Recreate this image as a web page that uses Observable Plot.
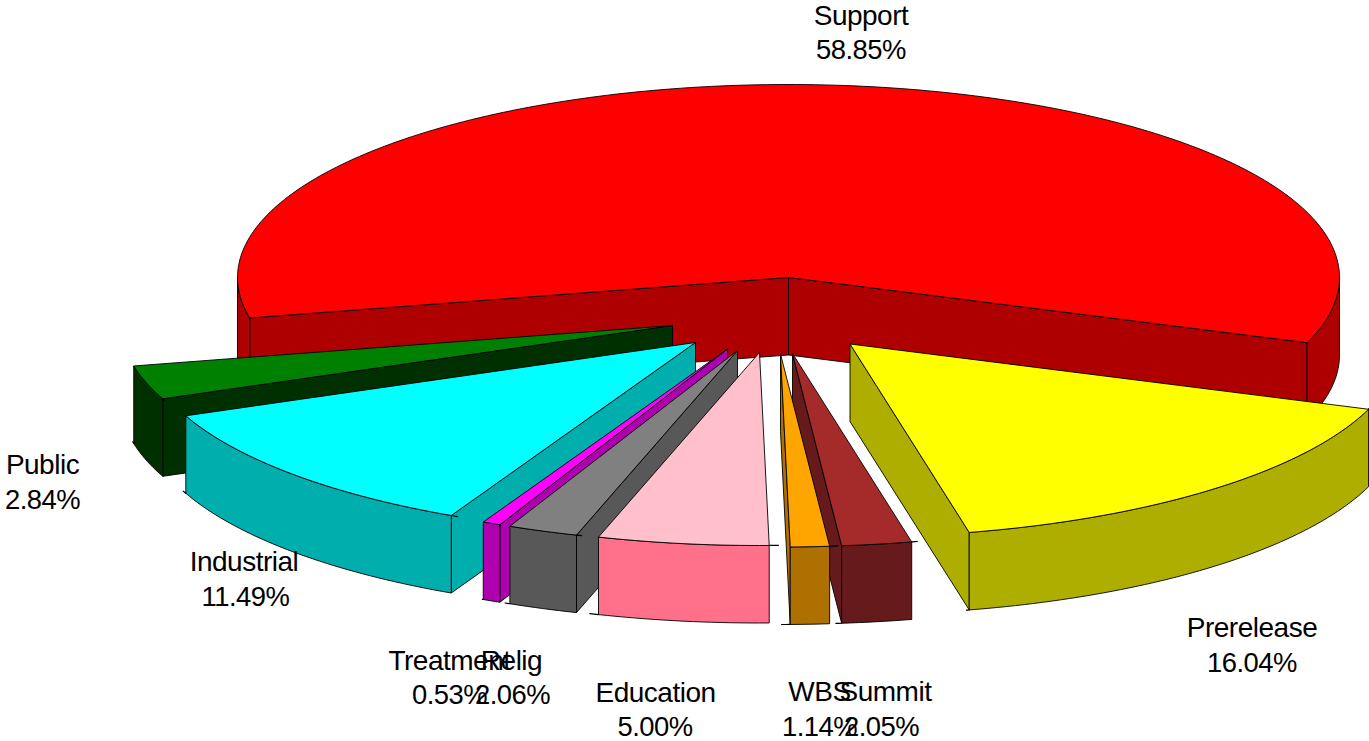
<!DOCTYPE html>
<html>
<head>
<meta charset="utf-8">
<style>html,body{margin:0;padding:0;background:#fff;overflow:hidden}svg{display:block}</style>
<script src="https://cdn.jsdelivr.net/npm/d3@7"></script>
<script src="https://cdn.jsdelivr.net/npm/@observablehq/plot@0.6"></script>
</head>
<body>
<script>
// Data, in circular order (clockwise from the Support slice)
const categories = ["Support","Prerelease","Summit","WBS","Education","Relig","Treatment","Industrial","Public"];
const shares = [58.85,16.04,2.05,1.14,5.00,2.06,0.53,11.49,2.84];

// Styles
const topColors  = ["#ff0000","#ffff00","#a52a2a","#ffa500","#ffc0cb","#808080","#ff00ff","#00ffff","#008000"];
const wallColors = ["#ae0000","#aeae00","#661a1c","#ae7000","#ff708a","#585858","#ae00ae","#00aeae","#003000"];

// Layout: projection of the tilted pie, where each slice's apex lands once pulled out
const W = 1369, H = 741;
const rx = 551, ry = 193, depth = 77.5, firstAngle = 167.9;
const apexX = [788,849.5,792,780,759,737,727,695,672];
const apexY = [277,343.5,353,353.5,352,350,348.5,342,325];
const drawOrder = ["Support","Public","Prerelease","Industrial","Treatment","Relig","Summit","Education","WBS"];
const overshoot = [0,0.3,0.6,0.9,0.95,0.55,0.1,0.7,0.5];
const nameX = [860.5,1251.5,885,819,655,511,449,243.5,42];
const nameY = [16,628,692,692,693,661,661,562,465];
const pctX  = [860.5,1251.5,881,819,654.5,512,449,245,42];
const pctY  = [50,663,727,727,727,695,695,597,500];

const rad = d => d * Math.PI / 180;
const marks = [];
const poly = (pts, fill) => marks.push(Plot.line(pts, {x: d => d[0], y: d => d[1], fill, stroke: "#000", strokeWidth: 0.9, strokeLinejoin: "miter", curve: "linear"}));
const stroke = pts => marks.push(Plot.line(pts, {x: d => d[0], y: d => d[1], stroke: "#000", strokeWidth: 1.2, curve: "linear"}));

// Cumulative angles from the shares
let acc = firstAngle;
const slices = categories.map((name, i) => {
  const a0 = acc, a1 = acc + shares[i] * 3.6;
  acc = a1;
  return {name, i, a0, a1};
});

function arc(s, a0, a1, dz = 0) {
  const n = Math.max(2, Math.ceil(Math.abs(a1 - a0)));
  return d3.range(n + 1).map(k => {
    const a = rad(a0 + (a1 - a0) * k / n);
    return [apexX[s.i] + rx * Math.cos(a), apexY[s.i] + ry * Math.sin(a) + dz];
  });
}
function sideWall(s, a, fill) {
  const ax = apexX[s.i], ay = apexY[s.i];
  const [[ox, oy]] = arc(s, a, a);
  poly([[ax, ay], [ox, oy], [ox, oy + depth], [ax, ay + depth], [ax, ay]], fill);
}

for (const name of drawOrder) {
  const s = slices.find(d => d.name === name);
  const wall = wallColors[s.i], top = topColors[s.i];
  // side walls that face the viewer
  if (Math.cos(rad(s.a0)) < 0) sideWall(s, s.a0, wall);
  if (Math.cos(rad(s.a1)) > 0) sideWall(s, s.a1, wall);
  // rim wall for the part of the arc on the near side
  for (const k of [0, 360]) {
    const lo = Math.max(s.a0, k), hi = Math.min(s.a1, k + 180);
    if (hi > lo) {
      const upper = arc(s, lo, hi), lower = arc(s, hi, lo, depth);
      poly([...upper, ...lower, upper[0]], wall);
    }
  }
  // top face
  const a = arc(s, s.a0, s.a1);
  poly([[apexX[s.i], apexY[s.i]], ...a, [apexX[s.i], apexY[s.i]]], top);
  // small overshoot of the outline at the arc ends
  if (overshoot[s.i] > 0) {
    stroke(arc(s, s.a0 - overshoot[s.i], s.a0));
    stroke(arc(s, s.a1, s.a1 + overshoot[s.i], depth));
  }
}

const nameLabels = categories.map((text, i) => ({text, x: nameX[i], y: nameY[i]}));
const pctLabels = shares.map((v, i) => ({text: v.toFixed(2) + "%", x: pctX[i], y: pctY[i]}));
const textOpts = {x: "x", y: "y", text: "text", fontFamily: "Liberation Sans", fill: "#000", textAnchor: "middle", stroke: "none"};
marks.push(Plot.text(nameLabels, {...textOpts, fontSize: 28}));
marks.push(Plot.text(pctLabels, {...textOpts, fontSize: 27.4}));

document.body.append(Plot.plot({
  width: W, height: H, margin: 0,
  x: {domain: [0, W], range: [0, W], axis: null},
  y: {domain: [0, H], range: [0, H], axis: null},
  style: {background: "#fff", letterSpacing: "-0.5px", overflow: "hidden"},
  marks
}));
</script>
</body>
</html>
